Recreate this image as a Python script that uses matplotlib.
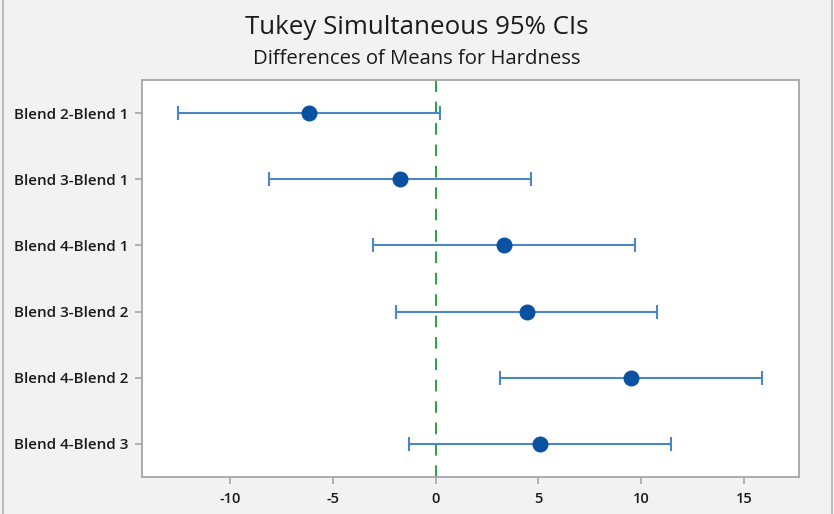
import matplotlib
matplotlib.use("Agg")
import matplotlib.pyplot as plt
from matplotlib.patches import Rectangle

# Tukey comparisons (paint hardness example)
pairs = ["Blend 2-Blend 1", "Blend 3-Blend 1", "Blend 4-Blend 1",
         "Blend 3-Blend 2", "Blend 4-Blend 2", "Blend 4-Blend 3"]
diffs = [-6.17, -1.75, 3.33, 4.42, 9.50, 5.08]
lower = [-12.54, -8.12, -3.04, -1.95, 3.13, -1.29]
upper = [0.20, 4.62, 9.70, 10.79, 15.87, 11.45]
xticks = [-10, -5, 0, 5, 10, 15]

plt.rcParams['font.family'] = ['Open Sans', 'DejaVu Sans']

fig = plt.figure(figsize=(8.34, 5.14), dpi=100, facecolor="#f2f2f2")
ax = fig.add_axes([142 / 834, 1 - 477 / 514, 657 / 834, 397 / 514])
ax.set_facecolor("white")

ypos = list(range(len(pairs)))
err_lo = [d - l for d, l in zip(diffs, lower)]
err_hi = [u - d for d, u in zip(diffs, upper)]

ax.axvline(0, color="#2e9e45", lw=1.4, ls=(0, (6, 5)), zorder=1)
ax.errorbar(diffs, ypos, xerr=[err_lo, err_hi], fmt="none",
            ecolor="#4a86c8", elinewidth=1.5, capsize=5, capthick=1.5, zorder=2)
ax.plot(diffs, ypos, "o", color="#0a51a1", ms=10.5, zorder=3)

ax.set_xlim(-14.29, 17.68)
ax.set_ylim(len(pairs) - 0.5, -0.5)
ax.set_xticks(xticks)
ax.set_xticklabels([str(t) for t in xticks], fontweight="semibold")
ax.set_yticks(ypos)
ax.set_yticklabels(pairs, fontweight="semibold")

for s in ax.spines.values():
    s.set_color("#a6a6a6")
    s.set_linewidth(1.3)
ax.tick_params(axis="both", colors="#a6a6a6", labelcolor="#1a1a1a",
               length=5, width=1.2)
ax.tick_params(axis="x", labelsize=10.5, pad=6)
ax.tick_params(axis="y", labelsize=11, pad=5)

fig.text(0.5, 1 - 28 / 514, "Tukey Simultaneous 95% CIs", ha="center",
         va="center", fontsize=18.6, color="#1a1a1a")
fig.text(0.5, 1 - 59 / 514, "Differences of Means for Hardness", ha="center",
         va="center", fontsize=14.6, color="#1a1a1a")

# window border
fig.patches.append(Rectangle((3 / 834, -0.01), 829 / 834, 1.05,
                             transform=fig.transFigure, fill=False,
                             edgecolor="#b0b0b0", lw=1.2))

fig.savefig("out.png", dpi=100, facecolor=fig.get_facecolor())
